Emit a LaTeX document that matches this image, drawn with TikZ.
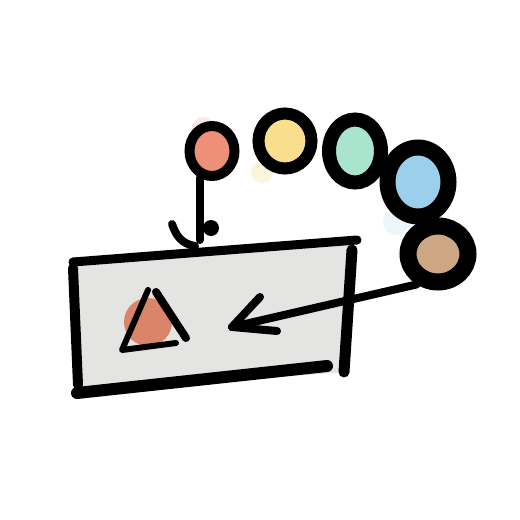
\documentclass[tikz,border=0pt]{standalone}
\usetikzlibrary{shapes.geometric}
\definecolor{boxgrey}{HTML}{E4E4E2}
\definecolor{cred}{HTML}{EE9079}
\definecolor{cyel}{HTML}{F8DE8D}
\definecolor{cgreen}{HTML}{A9E4CF}
\definecolor{cblue}{HTML}{9CCFEA}
\definecolor{cbrown}{HTML}{CDA783}
\definecolor{tred}{HTML}{DA8469}
\begin{document}
\begin{tikzpicture}[x=0.5pt,y=-0.5pt,
  ink/.style={line width=#1,line cap=round,line join=round,draw=black},
  ink/.default=4pt,
  ball/.style={ellipse,draw=black,inner sep=0pt}]
\useasboundingbox (0,0) rectangle (520,520);
\fill[white] (0,0) rectangle (520,520);
% soft colour halos
\fill[cred,opacity=0.2] (203,128) circle [radius=11];
\fill[cyel,opacity=0.3] (262,172) circle [radius=11];
\fill[cblue,opacity=0.2] (396,222) circle [radius=13];
% box
\fill[boxgrey] (72,262) -- (354,242) -- (346,372) -- (76,392) -- cycle;
\draw[ink=4.5pt] (73,262) -- (357,240);
\draw[ink=5pt] (73,268) -- (78,385);
\draw[ink=6pt] (77,393) -- (327,366);
\draw[ink=5.5pt] (352,250) -- (344,372);
% triangle
\fill[tred] (148,322) circle [radius=24];
\draw[ink=3pt] (148,290) -- (122,350) -- (176,343);
\draw[ink=4pt] (156,292) -- (186,338);
% balls
\node[ball,fill=cred,line width=5pt,minimum width=22.5pt,minimum height=25pt] (r) at (212,151) {};
\node[ball,fill=cyel,line width=6pt,minimum width=26.5pt,minimum height=27.5pt] (y) at (285,141) {};
\node[ball,fill=cgreen,line width=7pt,minimum width=26pt,minimum height=31.5pt] (g) at (355,151) {};
\node[ball,fill=cblue,line width=8pt,minimum width=30.5pt,minimum height=34.5pt] (b) at (418,182) {};
\node[ball,fill=cbrown,line width=8.5pt,minimum width=30pt,minimum height=28pt] (br) at (438,254) {};
% connector red -> box
\coordinate (boxtop) at (198,240);
\draw[ink=4pt] (r.245) -- (r.245 |- boxtop);
\fill (211,228) circle [radius=8];
\draw[ink=4pt] (172,224) .. controls (176,236) and (182,244) .. (195,246);
% connector brown -> triangle
\coordinate (tip) at (232,327);
\draw[ink=4pt] (br.235) -- (tip);
\draw[ink=4pt] (260,297) -- (tip) -- (277,331);
\end{tikzpicture}
\end{document}
